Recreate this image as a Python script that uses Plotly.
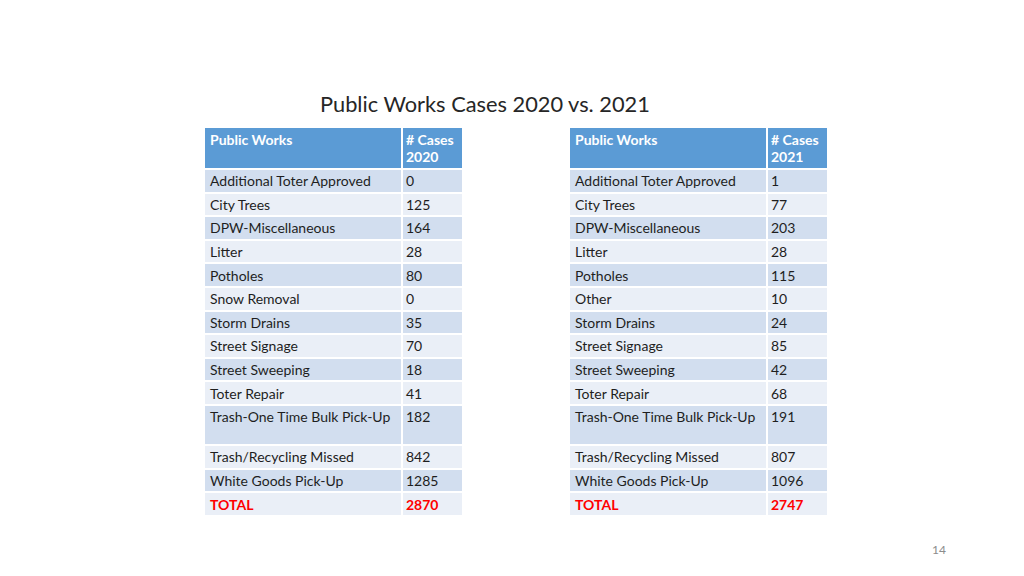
import plotly.graph_objects as go

# ---------------- data ----------------
title = "Public Works Cases 2020 vs. 2021"
page_number = "14"

header_label = "Public Works"
header_cases = "# Cases"
years = ["2020", "2021"]

categories_2020 = [
    "Additional Toter Approved", "City Trees", "DPW-Miscellaneous", "Litter",
    "Potholes", "Snow Removal", "Storm Drains", "Street Signage",
    "Street Sweeping", "Toter Repair", "Trash-One Time Bulk Pick-Up",
    "Trash/Recycling Missed", "White Goods Pick-Up",
]
values_2020 = [0, 125, 164, 28, 80, 0, 35, 70, 18, 41, 182, 842, 1285]
total_2020 = 2870

categories_2021 = [
    "Additional Toter Approved", "City Trees", "DPW-Miscellaneous", "Litter",
    "Potholes", "Other", "Storm Drains", "Street Signage",
    "Street Sweeping", "Toter Repair", "Trash-One Time Bulk Pick-Up",
    "Trash/Recycling Missed", "White Goods Pick-Up",
]
values_2021 = [1, 77, 203, 28, 115, 10, 24, 85, 42, 68, 191, 807, 1096]
total_2021 = 2747

total_label = "TOTAL"
tall_row_label = "Trash-One Time Bulk Pick-Up"

# ---------------- styles / geometry ----------------
HEADER_BLUE = "#5B9BD5"
ROW_DARK = "#D2DEEF"
ROW_LIGHT = "#EAEFF7"
TOTAL_RED = "#FF0000"
TEXT = "#1e1e1e"
FONT = "Lato, 'Open Sans', sans-serif"
W, H = 1024, 576
OFF = 8  # page body offset of the plot div

TABLE_LEFTS = [204, 569]
COL_WIDTHS = [198, 61]
HEADER_TOP, HEADER_BOTTOM = 127, 169
ROW_PITCH = 23.6
TALL_EXTRA = 16.6
NAME_PAD = 6
NUM_PAD = 4
CELL_FONT = 14


def row_edges(cats):
    edges = [HEADER_TOP, HEADER_BOTTOM]
    y = HEADER_BOTTOM
    for c in cats + [total_label]:
        y += ROW_PITCH + (TALL_EXTRA if c == tall_row_label else 0)
        edges.append(y)
    return edges


def add_table(fig, left, year, cats, vals, total):
    x_edges = [left, left + COL_WIDTHS[0], left + COL_WIDTHS[0] + COL_WIDTHS[1]]
    y_edges = row_edges(cats)
    n = len(cats) + 1
    z = [[0, 0]] + [[1, 1] if i % 2 == 0 else [2, 2] for i in range(n)]
    fig.add_trace(go.Heatmap(
        x=x_edges, y=y_edges, z=z, zmin=0, zmax=2,
        colorscale=[[0, HEADER_BLUE], [0.5, ROW_DARK], [1, ROW_LIGHT]],
        showscale=False, xgap=2, ygap=2, hoverinfo="skip",
    ))

    name_x = x_edges[0] + NAME_PAD
    num_x = x_edges[1] + NUM_PAD

    # header text
    fig.add_trace(go.Scatter(
        x=[name_x, num_x, num_x],
        y=[HEADER_TOP + 14, HEADER_TOP + 14, HEADER_TOP + 31],
        mode="text",
        text=[f"<b>{header_label}</b>", f"<b>{header_cases}</b>", f"<b>{year}</b>"],
        textposition="middle right",
        textfont=dict(family=FONT, size=CELL_FONT, color="white"),
        hoverinfo="skip", showlegend=False,
    ))

    # body text
    names = cats + [total_label]
    nums = [str(v) for v in vals] + [str(total)]
    ys = [y_edges[i + 1] + ROW_PITCH / 2 + 1.8 for i in range(n)]
    colors = [TEXT] * (n - 1) + [TOTAL_RED]
    names_t = names[:-1] + [f"<b>{names[-1]}</b>"]
    nums_t = nums[:-1] + [f"<b>{nums[-1]}</b>"]
    fig.add_trace(go.Scatter(
        x=[name_x] * n, y=ys, mode="text", text=names_t,
        textposition="middle right",
        textfont=dict(family=FONT, size=CELL_FONT, color=colors),
        hoverinfo="skip", showlegend=False,
    ))
    fig.add_trace(go.Scatter(
        x=[num_x] * n, y=ys, mode="text", text=nums_t,
        textposition="middle right",
        textfont=dict(family=FONT, size=CELL_FONT, color=colors),
        hoverinfo="skip", showlegend=False,
    ))


fig = go.Figure()
add_table(fig, TABLE_LEFTS[0], years[0], categories_2020, values_2020, total_2020)
add_table(fig, TABLE_LEFTS[1], years[1], categories_2021, values_2021, total_2021)

fig.add_annotation(
    text=title, x=484.5, y=103, xref="x", yref="y",
    showarrow=False, xanchor="center", yanchor="middle",
    font=dict(size=21.8, family=FONT, color="#262626"),
)
fig.add_annotation(
    text=page_number, x=939, y=549, xref="x", yref="y",
    showarrow=False, xanchor="center", yanchor="middle",
    font=dict(size=12, family=FONT, color="#8c8c8c"),
)

fig.update_layout(
    width=W, height=H,
    margin=dict(l=0, r=0, t=0, b=0),
    paper_bgcolor="white", plot_bgcolor="white",
    showlegend=False,
    xaxis=dict(range=[OFF, W + OFF], visible=False, fixedrange=True),
    yaxis=dict(range=[H + OFF, OFF], visible=False, fixedrange=True),
)

fig.write_html("out.html", config={"displayModeBar": False, "staticPlot": True})
